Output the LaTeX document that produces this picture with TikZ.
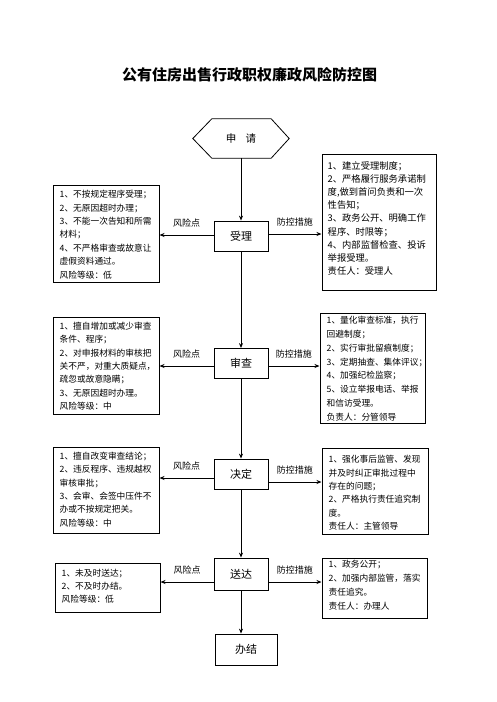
\documentclass[tikz,border=0pt]{standalone}
\usepackage{fontspec}
\setmainfont{Noto Sans CJK SC}
\usetikzlibrary{arrows.meta}

\tikzset{
  flowbox/.style={draw,line width=0.8pt,minimum width=54pt,minimum height=30pt,inner sep=0pt,font=\fontsize{11}{13}\selectfont},
  riskbox/.style={draw,line width=1pt,inner sep=0pt},
  memo/.style={anchor=north west,align=left,inner sep=0pt,font=\fontsize{8.7}{13.4}\selectfont},
  tag/.style={midway,above=7pt,inner sep=0pt,font=\fontsize{9}{11}\selectfont},
  link/.style={line width=0.9pt,-{Stealth[length=5pt,width=4pt]}}
}

\begin{document}
\begin{tikzpicture}[x=1pt,y=-1pt]
    \useasboundingbox (0,0) rectangle (496,702);
    \fill[white] (0,0) rectangle (496,702);
    \node[font=\fontsize{15}{18}\selectfont\bfseries] (title) at (249.5,75) {公有住房出售行政职权廉政风险防控图};

    % main flow
    \node[minimum width=96pt,minimum height=39pt,inner sep=0pt,font=\fontsize{10.5}{12}\selectfont] (sq) at (241,138.5) {申\hspace{0.9em}请};
    \draw[line width=0.8pt] (sq.west) -- ([xshift=19pt]sq.north west) -- ([xshift=-18pt]sq.north east) -- (sq.east)
        -- ([xshift=-18pt]sq.south east) -- ([xshift=19pt]sq.south west) -- cycle;
    \node[flowbox] (sl) at (241,236) {受理};
    \node[flowbox] (sc) at (241,363.5) {审查};
    \node[flowbox] (jd) at (241,474) {决定};
    \node[flowbox,minimum height=32pt] (sd) at (241,574) {送达};
    \node[flowbox,minimum width=62pt,minimum height=31pt] (bj) at (246,649.5) {办结};

    % risk points (left)
    \node[riskbox,minimum width=106pt,minimum height=97pt] (fx1) at (106,233.5) {};
    \node[memo] at ([shift={(7pt,-5.6pt)}]fx1.north west) {1、不按规定程序受理；\\2、无原因超时办理；\\3、不能一次告知和所需\\材料；\\4、不严格审查或故意让\\虚假资料通过。\\风险等级：低};
    \node[riskbox,minimum width=106pt,minimum height=97pt] (fx2) at (106,365.5) {};
    \node[memo] at ([shift={(7pt,-5.3pt)}]fx2.north west) {1、擅自增加或减少审查\\条件、程序；\\2、对申报材料的审核把\\关不严，对重大质疑点，\\疏忽或故意隐瞒；\\3、无原因超时办理。\\风险等级：中};
    \node[riskbox,minimum width=106pt,minimum height=86pt] (fx3) at (106,490) {};
    \node[memo] at ([shift={(7pt,-5.3pt)}]fx3.north west) {1、擅自改变审查结论；\\2、违反程序、违规越权\\审核审批；\\3、会审、会签中压件不\\办或不按规定把关。\\风险等级：中};
    \node[riskbox,minimum width=105pt,minimum height=49pt] (fx4) at (107.5,587.5) {};
    \node[memo] at ([shift={(7pt,-6pt)}]fx4.north west) {1、未及时送达；\\2、不及时办结。\\风险等级：低};

    % measures (right)
    \node[riskbox,minimum width=114pt,minimum height=136pt] (cs1) at (379,222) {};
    \node[memo,font=\fontsize{9.3}{13.2}\selectfont] at ([shift={(6pt,-7.6pt)}]cs1.north west) {1、建立受理制度；\\2、严格履行服务承诺制\\度,做到首问负责和一次\\性告知；\\3、政务公开、明确工作\\程序、时限等；\\4、内部监督检查、投诉\\举报受理。\\责任人：受理人};
    \node[riskbox,minimum width=105pt,minimum height=110pt] (cs2) at (372.5,368) {};
    \node[memo,font=\fontsize{8.7}{13.8}\selectfont] at ([shift={(7pt,-3.6pt)}]cs2.north west) {1、量化审查标准，执行\\回避制度；\\2、实行审批留痕制度；\\3、定期抽查、集体评议；\\4、加强纪检监察；\\5、设立举报电话、举报\\和信访受理。\\负责人：分管领导};
    \node[riskbox,minimum width=106pt,minimum height=86pt] (cs3) at (375,491) {};
    \node[memo] at ([shift={(7pt,-7.6pt)}]cs3.north west) {1、强化事后监管、发现\\并及时纠正审批过程中\\存在的问题；\\2、严格执行责任追究制\\度。\\责任人：主管领导};
    \node[riskbox,minimum width=105pt,minimum height=60pt] (cs4) at (374.5,588) {};
    \node[memo,font=\fontsize{8.7}{13.9}\selectfont] at ([shift={(7pt,-2.8pt)}]cs4.north west) {1、政务公开；\\2、加强内部监管，落实\\责任追究。\\责任人：办理人};

    % connectors
    \draw[link] (sq) -- (sl);
    \draw[link] (sl) -- (sc);
    \draw[link] (sc) -- (jd);
    \draw[link] (jd) -- (sd);
    \draw[link] (sd.south) -- (sd.south |- bj.north);
    \draw[link] ([yshift=1pt]sl.west) -- ([yshift=1pt]sl.west -| fx1.east) node[tag] {风险点};
    \draw[link] ([yshift=2pt]sl.east) -- ([yshift=2pt]sl.east -| cs1.west) node[tag] {防控措施};
    \draw[link] ([yshift=-2.5pt]sc.west) -- ([yshift=-2.5pt]sc.west -| fx2.east) node[tag] {风险点};
    \draw[link] ([yshift=-2.5pt]sc.east) -- ([yshift=-2.5pt]sc.east -| cs2.west) node[tag] {防控措施};
    \draw[link] ([yshift=-4pt]jd.west) -- ([yshift=-4pt]jd.west -| fx3.east) node[tag] {风险点};
    \draw[link] ([yshift=-8pt]jd.east) -- ([yshift=-8pt]jd.east -| cs3.west) node[tag] {防控措施};
    \draw[link] ([yshift=-8pt]sd.west) -- ([yshift=-8pt]sd.west -| fx4.east) node[tag] {风险点};
    \draw[link] ([yshift=-8pt]sd.east) -- ([yshift=-8pt]sd.east -| cs4.west) node[tag] {防控措施};
\end{tikzpicture}
\end{document}
